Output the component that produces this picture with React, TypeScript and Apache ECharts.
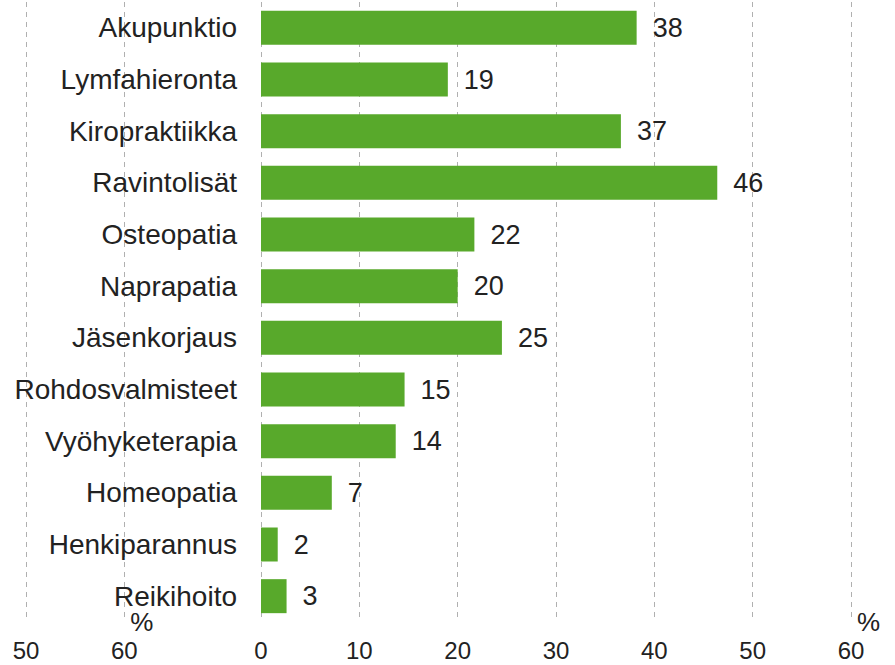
import React, { useEffect, useRef } from "react";
import * as echarts from "echarts";

const categories = [
  "Akupunktio",
  "Lymfahieronta",
  "Kiropraktiikka",
  "Ravintolisät",
  "Osteopatia",
  "Naprapatia",
  "Jäsenkorjaus",
  "Rohdosvalmisteet",
  "Vyöhyketerapia",
  "Homeopatia",
  "Henkiparannus",
  "Reikihoito",
];
const values = [38.2, 19.0, 36.6, 46.4, 21.7, 20.0, 24.5, 14.6, 13.7, 7.2, 1.7, 2.6];
const axisName = "%";
const leftAxisMin = 50;
const leftAxisMax = 60;
const FONT = "'Liberation Sans', Arial, sans-serif";
const GREEN = "#58A92B";

export default function App() {
  const ref = useRef<HTMLDivElement>(null);
  useEffect(() => {
    if (!ref.current) return;
    const chart = echarts.init(ref.current, null, { renderer: "svg" });
    const splitLine = {
      show: true,
      lineStyle: { color: "#b0b0b0", type: [5, 5] as any, width: 1 },
    };
    const nameTextStyle = { fontSize: 26, color: "#222", fontFamily: FONT, verticalAlign: "middle" };
    const axisLabel = { fontSize: 24, color: "#222", margin: 16, fontFamily: FONT };
    chart.setOption({
      animation: false,
      textStyle: { fontFamily: FONT },
      grid: [
        { left: 261, right: 44, top: 2, bottom: 43, containLabel: false },
        { left: 26, width: 98.3, top: 2, bottom: 43, containLabel: false },
      ],
      xAxis: [
        {
          gridIndex: 0,
          type: "value",
          min: 0,
          max: 60,
          interval: 10,
          name: axisName,
          nameLocation: "end",
          nameGap: 6,
          nameTextStyle,
          axisLine: { show: false },
          axisTick: { show: false },
          axisLabel,
          splitLine,
        },
        {
          gridIndex: 1,
          type: "value",
          min: leftAxisMin,
          max: leftAxisMax,
          interval: 10,
          name: axisName,
          nameLocation: "end",
          nameGap: 6,
          nameTextStyle,
          axisLine: { show: false },
          axisTick: { show: false },
          axisLabel,
          splitLine,
        },
      ],
      yAxis: [
        {
          gridIndex: 0,
          type: "category",
          data: categories,
          inverse: true,
          z: 5,
          axisLine: { show: false },
          axisTick: { show: false },
          axisLabel: { fontSize: 28, color: "#222", margin: 24, fontFamily: FONT },
        },
        {
          gridIndex: 1,
          type: "category",
          data: categories,
          inverse: true,
          show: false,
        },
      ],
      series: [
        {
          type: "bar",
          xAxisIndex: 0,
          yAxisIndex: 0,
          data: values,
          barWidth: 34,
          itemStyle: { color: GREEN },
          label: {
            show: true,
            position: "right",
            distance: 16,
            fontSize: 27,
            color: "#222",
            fontFamily: FONT,
            formatter: (p: any) => String(Math.round(p.value)),
          },
        },
        {
          type: "bar",
          xAxisIndex: 1,
          yAxisIndex: 1,
          data: [],
        },
      ],
    });
    return () => chart.dispose();
  }, []);
  return <div ref={ref} style={{ width: 895, height: 665, position: "absolute", left: 0, top: 0 }} />;
}
